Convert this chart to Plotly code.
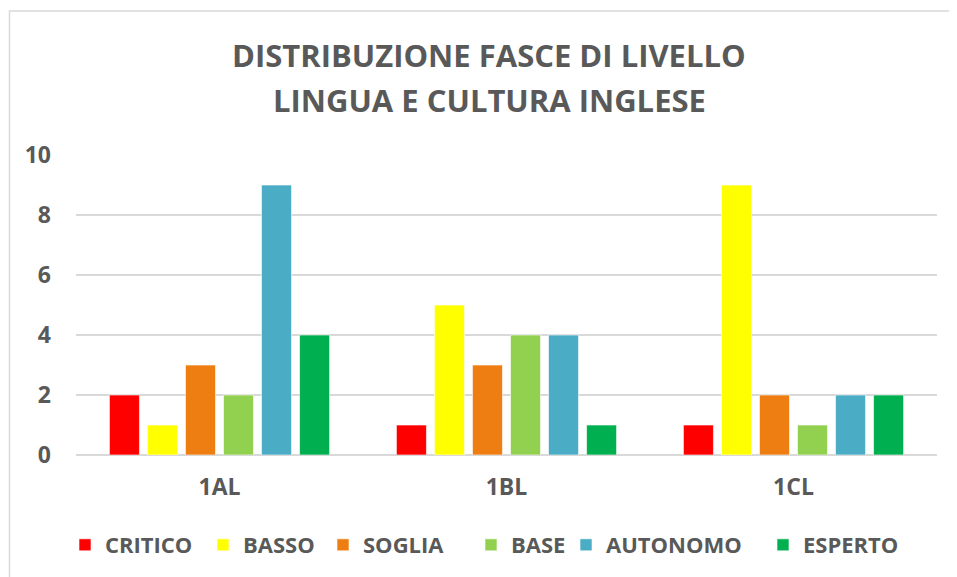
import plotly.graph_objects as go

classes = ["1AL", "1BL", "1CL"]
levels = ["CRITICO", "BASSO", "SOGLIA", "BASE", "AUTONOMO", "ESPERTO"]
critico = [2, 1, 1]
basso = [1, 5, 9]
soglia = [3, 3, 2]
base = [2, 4, 1]
autonomo = [9, 4, 2]
esperto = [4, 1, 2]
colors = ["#FF0000", "#FFFF00", "#EE7E12", "#92D050", "#4BACC6", "#00B050"]
y_ticks = [0, 2, 4, 6, 8, 10]

series = [critico, basso, soglia, base, autonomo, esperto]
FONT = "Open Sans"
GRAY = "#595959"

# legend item marker left edges (page px), layout only
legend_px = [79, 217, 337, 485, 580, 777]
legend_names = ["legend", "legend2", "legend3", "legend4", "legend5", "legend6"]

fig = go.Figure()
for name, vals, col, lg in zip(levels, series, colors, legend_names):
    fig.add_trace(go.Bar(
        name=name, x=classes, y=vals, legend=lg,
        marker=dict(color=col, line=dict(color="rgba(255,255,255,0.6)", width=1)),
    ))

legend_layout = {}
for lg, px in zip(legend_names, legend_px):
    legend_layout[lg] = dict(
        orientation="h", x=(px - 14 - 76) / 861, xanchor="left", y=-0.3, yanchor="middle",
        font=dict(family=FONT, size=22, color=GRAY, weight="bold"),
        itemwidth=30, bgcolor="rgba(0,0,0,0)")

fig.update_layout(
    width=957, height=577,
    margin=dict(l=68, r=28, t=147, b=130),
    paper_bgcolor="white", plot_bgcolor="white",
    barmode="group", bargap=0.205, bargroupgap=0.21,
    font=dict(family=FONT, color=GRAY),
    showlegend=True,
    xaxis=dict(showgrid=False, showline=False, ticks="", ticklabelstandoff=16,
               tickfont=dict(family=FONT, size=23, color=GRAY, weight="bold")),
    yaxis=dict(range=[0, 10], tickvals=y_ticks, showgrid=True, gridcolor="#D9D9D9", gridwidth=1.5,
               zeroline=True, zerolinecolor="#D9D9D9", zerolinewidth=1.5,
               showline=False, ticks="", ticklabelstandoff=24,
               tickfont=dict(family=FONT, size=23, color=GRAY, weight="bold")),
    shapes=[dict(type="rect", xref="paper", yref="paper",
                 x0=(9.5 - 76) / 861, x1=(970 - 76) / 861,
                 y0=(455 - 600) / 300, y1=(455 - 11) / 300,
                 line=dict(color="#D9D9D9", width=1.5), fillcolor="rgba(0,0,0,0)", layer="below")],
    annotations=[
        dict(text="DISTRIBUZIONE FASCE DI LIVELLO", xref="paper", yref="paper",
             x=(489 - 76) / 861, y=(455 - 55) / 300, xanchor="center", yanchor="middle",
             showarrow=False, font=dict(family=FONT, size=31, color=GRAY, weight="bold")),
        dict(text="LINGUA E CULTURA INGLESE", xref="paper", yref="paper",
             x=(489 - 76) / 861, y=(455 - 100) / 300, xanchor="center", yanchor="middle",
             showarrow=False, font=dict(family=FONT, size=31, color=GRAY, weight="bold")),
    ],
    **legend_layout,
)

fig.write_html("out.html")
